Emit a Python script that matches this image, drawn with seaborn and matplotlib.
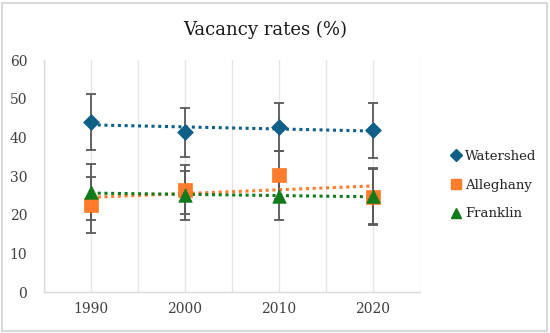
import matplotlib
matplotlib.use('Agg')
import matplotlib.pyplot as plt
from matplotlib.lines import Line2D
from matplotlib.patches import Rectangle
import seaborn as sns
import pandas as pd

# data
years = [1990, 2000, 2010, 2020]
watershed = [44.0, 41.3, 42.6, 41.8]
alleghany = [22.5, 26.5, 30.3, 24.5]
franklin = [25.8, 25.0, 24.8, 24.8]
errors = [7.3, 6.3, 6.2, 7.2]

series = ['Watershed', 'Alleghany', 'Franklin']
colors = {'Watershed': '#0F5F86', 'Alleghany': '#FF7C2C', 'Franklin': '#137A1B'}
markers = {'Watershed': 'D', 'Alleghany': 's', 'Franklin': '^'}
sizes = {'Watershed': 65, 'Alleghany': 100, 'Franklin': 95}

df = pd.DataFrame({
    'year': years * 3,
    'rate': watershed + alleghany + franklin,
    'err': errors * 3,
    'area': [s for s in series for _ in years],
})

sns.set_style('white')
plt.rcParams['font.family'] = ['DejaVu Serif']

fig = plt.figure(figsize=(5.5, 3.33), dpi=100)
ax = fig.add_axes([44 / 550, 41 / 333, 376 / 550, 232 / 333])

for name in series:
    d = df[df['area'] == name]
    ax.errorbar(d['year'], d['rate'], yerr=d['err'], fmt='none', ecolor='#595959',
                elinewidth=1.3, capsize=3.5, capthick=1.3, zorder=2)
    sns.regplot(data=d, x='year', y='rate', ax=ax, scatter=False, ci=None, truncate=True,
                line_kws={'color': colors[name], 'linestyle': (0, (1, 1.2)), 'linewidth': 2.2, 'zorder': 3})
    sns.scatterplot(data=d, x='year', y='rate', ax=ax, marker=markers[name], s=sizes[name],
                    color=colors[name], edgecolor=colors[name], linewidth=0.5, zorder=4)

ax.set_xlim(1985, 2025)
ax.set_ylim(0, 60)
ax.set_xticks(range(1985, 2026, 5))
ax.set_xticklabels(['' if y % 10 else str(y) for y in range(1985, 2026, 5)])
ax.set_yticks(range(0, 61, 10))
ax.grid(axis='x', color='#E6E6E6', linewidth=1)
ax.grid(axis='y', visible=False)
ax.set_xlabel('')
ax.set_ylabel('')
ax.tick_params(axis='both', length=0, labelsize=10, colors='#404040')
ax.tick_params(axis='x', pad=7)
ax.tick_params(axis='y', pad=12)
for side in ['top', 'right']:
    ax.spines[side].set_visible(False)
for side in ['left', 'bottom']:
    ax.spines[side].set_color('#D9D9D9')
    ax.spines[side].set_linewidth(1)

handles = [Line2D([], [], linestyle='none', marker=markers[n], color=colors[n],
                  markersize={'Watershed': 6, 'Alleghany': 7, 'Franklin': 7}[n]) for n in series]
fig.legend(handles, series, loc='center left', bbox_to_anchor=(443 / 550, 1 - 185 / 333),
           frameon=False, fontsize=9.5, handletextpad=0.1, labelspacing=1.2,
           handlelength=1.2, borderaxespad=0, labelcolor='#262626')

fig.text(265 / 550, 1 - 30 / 333, 'Vacancy rates (%)',
         ha='center', va='center', fontsize=13, color='#1a1a1a')

fig.patches.append(Rectangle((2 / 550, 2 / 333), 545 / 550, 328 / 333, transform=fig.transFigure,
                             fill=False, edgecolor='#D9D9D9', linewidth=1.5))

fig.savefig('out.png', dpi=100)
